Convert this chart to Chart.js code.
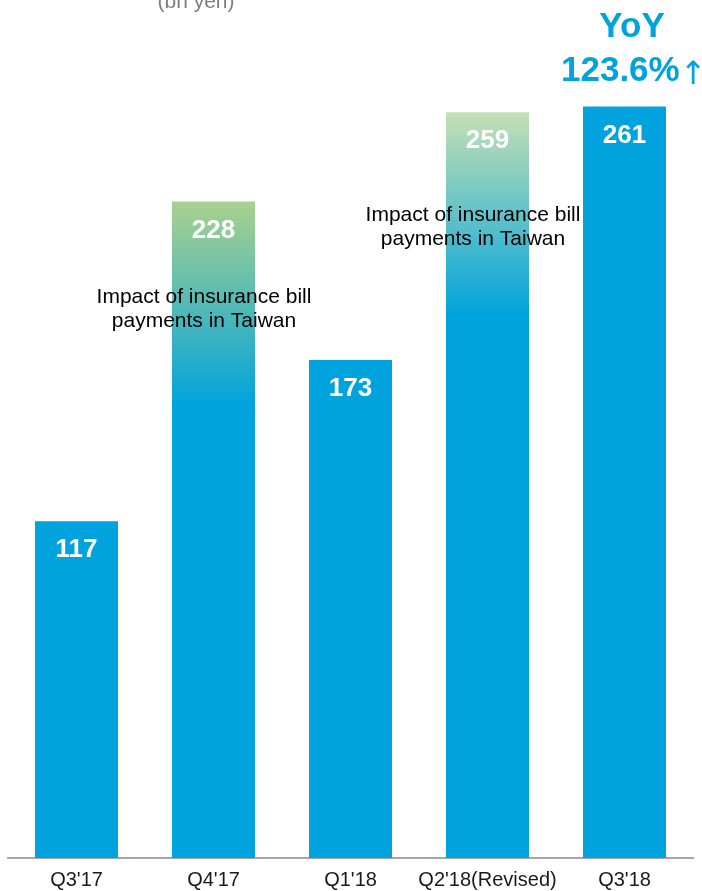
<!DOCTYPE html>
<html>
<head>
<meta charset="utf-8">
<script src="https://cdn.jsdelivr.net/npm/chart.js@4"></script>
<style>
  html, body { margin: 0; padding: 0; background: #fff; }
  #wrap { position: relative; width: 702px; height: 891px; }
</style>
</head>
<body>
<div id="wrap"><canvas id="revenueChart" width="702" height="891"></canvas></div>
<script>
// Quarterly figures (bn yen)
const quarters = ["Q3'17", "Q4'17", "Q1'18", "Q2'18(Revised)", "Q3'18"];
const revenue = [117, 228, 173, 259, 261];
// Quarters lifted by insurance bill payments in Taiwan
const insuranceImpact = [false, true, false, true, false];
const yoyGrowth = '123.6%';
const unitLabel = '(bn yen)';
const impactNote = ['Impact of insurance bill', 'payments in Taiwan'];

const BLUE = '#00a3dd';
const FONT = '"Liberation Sans", Arial, Helvetica, sans-serif';
const tintTop = { 1: '#a9d18e', 3: '#c5e0b4' };

function barFill(ctx) {
    const i = ctx.dataIndex;
    const chart = ctx.chart;
    if (!insuranceImpact[i] || !chart.chartArea) return BLUE;
    const top = chart.scales.y.getPixelForValue(revenue[i]);
    const g = chart.ctx.createLinearGradient(0, top, 0, top + 205);
    g.addColorStop(0, tintTop[i]);
    g.addColorStop(1, BLUE);
    return g;
}

// Values inside the bars, plus the notes and the YoY callout
const overlay = {
    id: 'overlay',
    afterDatasetsDraw(chart) {
        const c = chart.ctx;
        const x = chart.scales.x;
        const y = chart.scales.y;
        c.save();
        c.textAlign = 'center';
        c.textBaseline = 'alphabetic';

        c.fillStyle = '#fff';
        c.font = 'bold 26px ' + FONT;
        revenue.forEach((v, i) => {
            c.fillText(String(v), x.getPixelForValue(i), y.getPixelForValue(v) + 36);
        });

        c.fillStyle = '#000';
        c.font = '21px ' + FONT;
        [[204, 303], [473, 221]].forEach(([nx, ny]) => {
            c.fillText(impactNote[0], nx, ny);
            c.fillText(impactNote[1], nx, ny + 24);
        });

        c.fillStyle = '#7f7f7f';
        c.font = '21px ' + FONT;
        c.fillText(unitLabel, 196, 8);

        c.fillStyle = BLUE;
        c.font = 'bold 35px ' + FONT;
        c.fillText('YoY', 632, 37);
        c.textAlign = 'left';
        const w = c.measureText(yoyGrowth).width;
        c.fillText(yoyGrowth, 561, 81);
        c.font = '32px "DejaVu Sans", sans-serif';
        c.fillText('↑', 561 + w, 84);
        c.restore();
    }
};

new Chart(document.getElementById('revenueChart'), {
    type: 'bar',
    data: {
        labels: quarters,
        datasets: [{
            data: revenue,
            backgroundColor: barFill,
            borderWidth: 0,
            categoryPercentage: 1,
            barPercentage: 0.606
        }]
    },
    options: {
        responsive: false,
        animation: false,
        layout: { padding: { left: 8, right: 9, top: 0, bottom: 0 } },
        plugins: { legend: { display: false }, tooltip: { enabled: false } },
        scales: {
            x: {
                grid: { display: false, drawTicks: false },
                border: { display: true, color: '#a6a6a6', width: 2 },
                ticks: {
                    color: '#1a1a1a',
                    padding: 10,
                    font: { family: FONT, size: 20, lineHeight: 1.2 },
                    maxRotation: 0,
                    autoSkip: false
                },
                afterFit(scale) { scale.height = 33; }
            },
            y: {
                display: false,
                min: 0,
                max: 298
            }
        }
    },
    plugins: [overlay]
});
</script>
</body>
</html>
